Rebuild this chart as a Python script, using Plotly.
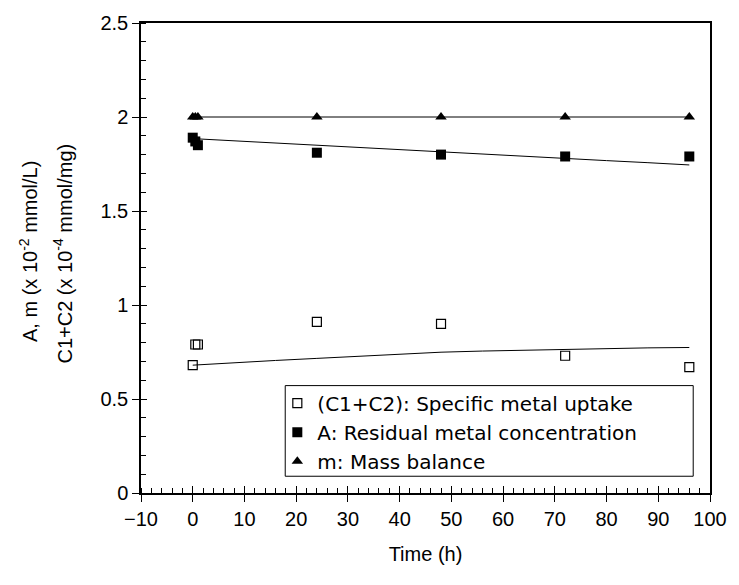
import plotly.graph_objects as go

# Data
time_h = [0, 0.5, 1, 24, 48, 72, 96]
uptake_c = [0.68, 0.79, 0.79, 0.91, 0.90, 0.73, 0.67]
residual_a = [1.89, 1.87, 1.85, 1.81, 1.80, 1.79, 1.79]
mass_m = [2.0, 2.0, 2.0, 2.0, 2.0, 2.0, 2.0]

fit_t = [0, 8, 16, 24, 32, 40, 48, 56, 64, 72, 80, 88, 96]
fit_c = [0.680, 0.694, 0.705, 0.716, 0.728, 0.739, 0.749, 0.755, 0.760, 0.765, 0.769, 0.772, 0.774]
fit_a = [1.885, 1.873, 1.862, 1.850, 1.838, 1.827, 1.815, 1.803, 1.792, 1.780, 1.768, 1.757, 1.745]
fit_m = [2.0] * len(fit_t)

FONT = "Liberation Sans, Arial, sans-serif"
LFONT = "DejaVu Sans, Liberation Sans, sans-serif"

fig = go.Figure()
for yv in (fit_c, fit_a, fit_m):
    fig.add_trace(go.Scatter(x=fit_t, y=yv, mode="lines",
                             line=dict(color="black", width=1), showlegend=False, hoverinfo="skip"))

fig.add_trace(go.Scatter(x=time_h, y=uptake_c, mode="markers",
                         name="(C1+C2): Specific metal uptake",
                         marker=dict(symbol="square-open", size=9, color="black", line=dict(width=1.2))))
fig.add_trace(go.Scatter(x=time_h, y=residual_a, mode="markers",
                         name="A: Residual metal concentration",
                         marker=dict(symbol="square", size=10, color="black")))
fig.add_trace(go.Scatter(x=time_h, y=mass_m, mode="markers",
                         name="m: Mass balance",
                         marker=dict(symbol="triangle-up", size=10, color="black")))
# invisible trace for overlay axes
fig.add_trace(go.Scatter(x=[0], y=[0], xaxis="x2", yaxis="y2", mode="markers",
                         marker=dict(opacity=0), showlegend=False, hoverinfo="skip"))

L, R, T, B = 141, 22, 16, 92
W, H = 739, 585
PW, PH = W - L - R, H - T - B

def px(x):
    return (x - L) / PW

def py(y):
    return (H - B - y) / PH

xr = [-10, 100]
yr = [0, 2.5]
fig.update_layout(
    width=W, height=H,
    margin=dict(l=L, r=R, t=T, b=B),
    paper_bgcolor="white", plot_bgcolor="white",
    font=dict(family=FONT, size=20, color="black"),
    showlegend=True,
    legend=dict(x=px(279), y=py(382), xanchor="left", yanchor="top",
                borderwidth=0, bgcolor="rgba(0,0,0,0)",
                font=dict(size=20, family=LFONT), itemwidth=30, tracegroupgap=0),
    xaxis=dict(range=xr, dtick=10, tick0=0, ticks="outside", ticklen=7, tickwidth=1,
               tickcolor="black", showline=True, linecolor="black", linewidth=1.5, mirror=True,
               showgrid=False, zeroline=False,
               minor=dict(ticks="inside", dtick=2, ticklen=5, tickcolor="black", showgrid=False),
               title=dict(text="Time (h)", font=dict(size=20), standoff=18), tickfont=dict(size=20)),
    yaxis=dict(range=yr, dtick=0.5, ticks="outside", ticklen=7, tickwidth=1,
               tickcolor="black", showline=True, linecolor="black", linewidth=1.5, mirror=True,
               showgrid=False, zeroline=False,
               minor=dict(ticks="inside", dtick=0.1, ticklen=5, tickcolor="black", showgrid=False),
               tickfont=dict(size=20)),
    xaxis2=dict(range=xr, dtick=10, tick0=0, overlaying="x", anchor="y2", side="bottom",
                ticks="inside", ticklen=7, tickcolor="black", showticklabels=False,
                showgrid=False, zeroline=False, showline=False),
    yaxis2=dict(range=yr, dtick=0.5, overlaying="y", anchor="x2", side="left",
                ticks="inside", ticklen=6, tickcolor="black", showticklabels=False,
                showgrid=False, zeroline=False, showline=False),
)

# legend frame
fig.add_shape(type="rect", xref="paper", yref="paper",
              x0=px(287), x1=px(700), y0=py(476), y1=py(384),
              line=dict(color="black", width=1), fillcolor="white", layer="below")

fig.add_annotation(x=px(27), y=py(248), xref="paper", yref="paper", textangle=-90,
                   text="A, m (x 10<sup>-2</sup> mmol/L)", showarrow=False,
                   font=dict(size=20, family=FONT), xanchor="center", yanchor="middle")
fig.add_annotation(x=px(62), y=py(250), xref="paper", yref="paper", textangle=-90,
                   text="C1+C2 (x 10<sup>-4</sup> mmol/mg)", showarrow=False,
                   font=dict(size=20, family=FONT), xanchor="center", yanchor="middle")

fig.write_html("out.html")
